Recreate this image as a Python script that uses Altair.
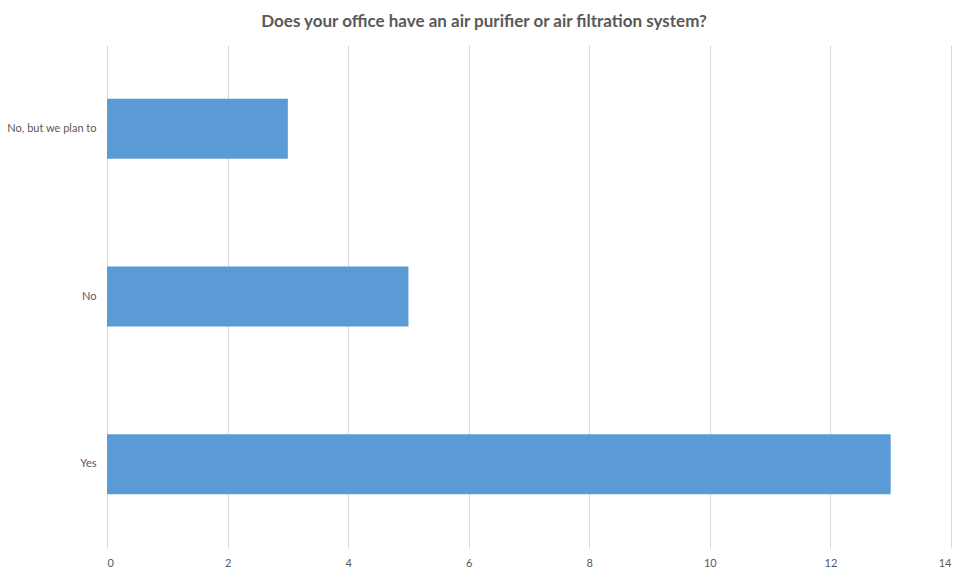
import altair as alt
import pandas as pd

categories = ["No, but we plan to", "No", "Yes"]
values = [3, 5, 13]
x_ticks = [0, 2, 4, 6, 8, 10, 12, 14]

df = pd.DataFrame({"answer": categories, "count": values})

FONT = "Lato"
GREY = "#595959"

chart = alt.Chart(df).mark_bar(color="#5B9BD5").encode(
    x=alt.X("count:Q",
            scale=alt.Scale(domain=[0, 14], nice=False),
            axis=alt.Axis(values=x_ticks, title=None, domain=False, ticks=False,
                          grid=True, gridColor="#D9D9D9", gridWidth=1,
                          labelFont=FONT, labelFontSize=11, labelColor=GREY,
                          labelPadding=9)),
    y=alt.Y("answer:N", sort=categories,
            scale=alt.Scale(paddingInner=0.642, paddingOuter=0.321),
            axis=alt.Axis(title=None, domain=False, ticks=False, grid=False,
                          labelFont=FONT, labelFontSize=11, labelColor=GREY,
                          labelPadding=11)),
).properties(
    width=844,
    height=503,
    title=alt.Title("Does your office have an air purifier or air filtration system?",
                    font=FONT, fontSize=17, fontWeight="bold", color=GREY,
                    anchor="middle", dx=-45, offset=14),
    autosize=alt.AutoSizeParams(type="none"),
    padding={"left": 99, "top": 37, "right": 10, "bottom": 24},
).configure_view(stroke=None)

chart.save("out.html", embed_options={"renderer": "svg", "actions": False})
